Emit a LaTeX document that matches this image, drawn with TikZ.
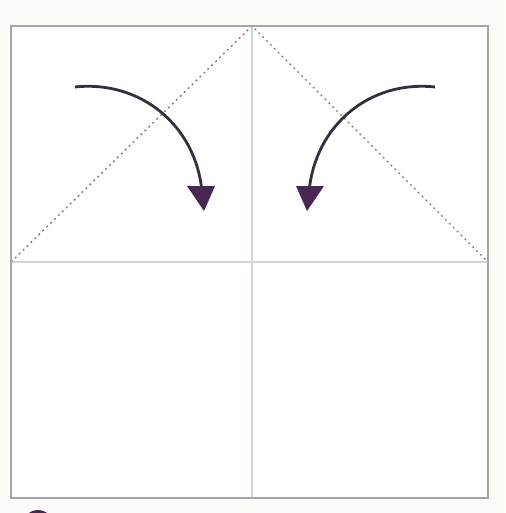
\documentclass[tikz,border=0pt]{standalone}
\definecolor{bgcream}{RGB}{252,252,248}
\definecolor{creasecol}{RGB}{205,213,222}
\definecolor{arrowline}{RGB}{55,45,62}
\definecolor{arrowfill}{RGB}{72,40,82}
\begin{document}
\begin{tikzpicture}[x=1pt,y=-1pt,
  frame/.style={draw=black!35,line width=1.8pt},
  crease/.style={draw=creasecol,line width=1.3pt},
  valley/.style={draw=black!50,line width=1.4pt,dash pattern=on 2pt off 3.5pt},
  foldarrow/.style={draw=arrowline,line width=2.8pt},
  arrowhead/.style={fill=arrowfill}]
\fill[bgcream] (0,0) rectangle (505,513);
\useasboundingbox (0,0) rectangle (505,513);
\fill[white] (11,26) rectangle (488,498);
\coordinate (TL) at (11,26);
\coordinate (BR) at (488,498);
\coordinate (T) at (252,26);
\coordinate (B) at (252,498);
\coordinate (L) at (11,262);
\coordinate (R) at (488,262);
\draw[crease] (T) -- (B);
\draw[crease] (L) -- (R);
\draw[valley] (L) -- (T) -- (R);
\draw[frame] (TL) rectangle (BR);
% left arrow
\coordinate (a1) at (75,87);
\coordinate (a2) at (202,192);
\draw[foldarrow] (a1) .. controls (140,80) and (196,125) .. (a2);
\fill[arrowhead] (187,186) -- (215,186) -- (204,211) -- cycle;
% right arrow
\coordinate (b1) at (435,87);
\coordinate (b2) at (309,192);
\draw[foldarrow] (b1) .. controls (370,80) and (315,125) .. (b2);
\fill[arrowhead] (296,186) -- (324,186) -- (307,211) -- cycle;
% partial circle at bottom
\begin{scope}
\clip (0,0) rectangle (505,513);
\fill[arrowfill] (38,525) circle (15);
\end{scope}
\end{tikzpicture}
\end{document}
